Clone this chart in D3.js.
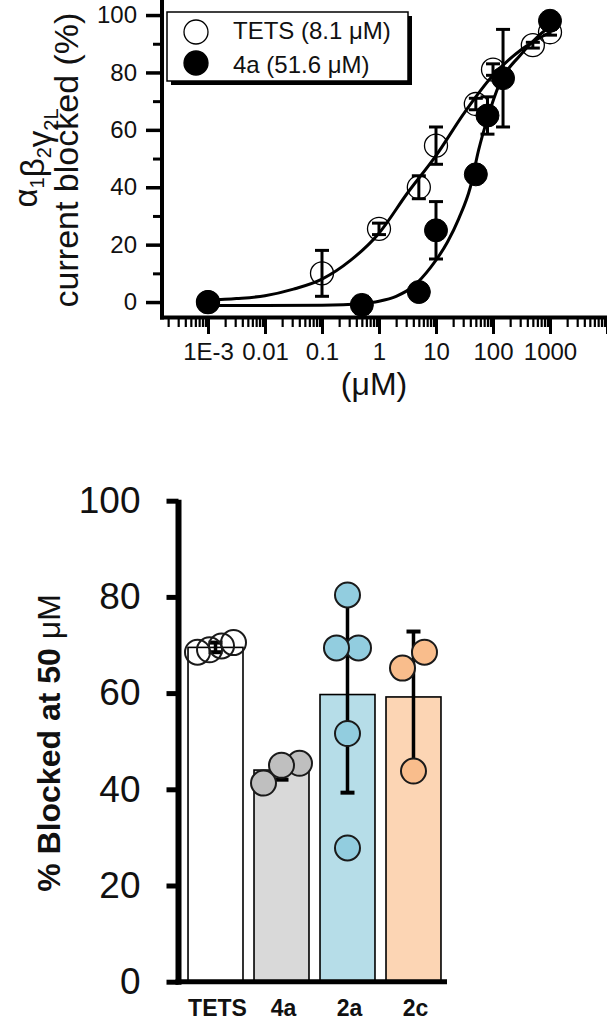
<!DOCTYPE html>
<html>
<head>
<meta charset="utf-8">
<script src="https://cdn.jsdelivr.net/npm/d3@7"></script>
<style>
    body { margin: 0; background: #fff; }
    svg { display: block; font-family: "Liberation Sans", Arial, sans-serif; }
</style>
</head>
<body>
<div id="chart"></div>
<script>
// ---- top panel: concentration-response (uM vs % blocked) ----
const tetsConc = [0.001, 0.1, 1, 5, 10, 50, 100, 500, 1000];
const tetsMean = [0, 10, 25.5, 40, 54.5, 69, 81, 89.5, 94];
const tetsErr = [0, 8, 2, 4, 6.5, 2, 2, 1, 1];

const a4Conc = [0.001, 0.5, 5, 10, 50, 80, 150, 1000];
const a4Mean = [0, -1, 3.5, 25, 44.5, 65, 78, 98];
const a4Err = [0, 3, 0, 10, 1, 6.5, 17, 0];

// fitted curves
const tetsFitConc = [0.001, 0.00316, 0.01, 0.0316, 0.1, 0.316, 1, 3.16, 10, 31.6, 100, 316, 1000];
const tetsFitVal = [0.6, 1.2, 2.2, 4.5, 8, 14.5, 24, 38, 51, 66, 79, 88, 94];
const a4FitConc = [0.001, 0.01, 0.1, 0.5, 1, 2, 4, 8, 16, 25, 40, 56, 80, 130, 300, 650, 1000];
const a4FitVal = [-1.2, -1.2, -1.1, -0.5, 0.3, 2, 5.5, 12, 21, 29, 40, 53, 64, 76, 86, 93, 96];

const xTickValues = [1e-3, 1e-2, 0.1, 1, 10, 100, 1000, 1e4];
const xTickLabels = ['1E-3', '0.01', '0.1', '1', '10', '100', '1000', ''];
const yTicksTop = [0, 20, 40, 60, 80, 100];
const yMinorTop = [10, 30, 50, 70, 90];
const legendLabels = ['TETS (8.1 \u03bcM)', '4a (51.6 \u03bcM)'];

// ---- bottom panel: % blocked at 50 uM ----
const groups = ['TETS', '4a', '2a', '2c'];
const groupMean = [69.5, 44, 59.7, 59.2];
const groupSd = [1, 2, 20.4, 13.6];
const groupPoints = [
    [70.5, 69, 69.8, 68.5],
    [45.4, 45, 41.3],
    [80.4, 69.4, 69.4, 51.6, 27.8],
    [68.5, 65.2, 43.8],
];
const yTicksBottom = [0, 20, 40, 60, 80, 100];

const barFill = ['#ffffff', '#d9d9d9', '#b6dde8', '#fcd5b4'];
const dotFill = ['none', '#bfbfbf', '#92cddf', '#f9bd8c'];

const W = 607, H = 1020;
const svg = d3.select('#chart').append('svg')
    .attr('width', W).attr('height', H)
    .attr('viewBox', `0 0 ${W} ${H}`);
svg.append('rect').attr('width', W).attr('height', H).attr('fill', '#fff');

/* ================= top panel ================= */
const xTop = d3.scaleLog().domain([1.56e-4, 1e4]).range([162, 607]);
const yTop = d3.scaleLinear().domain([-5, 105]).range([316.4, 0.7]);
const topG = svg.append('g');

// minor x ticks: 2..9 in every decade
const xMinor = [];
for (let e = -4; e < 4; e++) {
    for (let m = 2; m <= 9; m++) {
        const v = m * Math.pow(10, e);
        if (v > 1.56e-4 && v < 1e4) xMinor.push(v);
    }
}

const gxMinor = topG.append('g').attr('transform', 'translate(0,317)')
    .call(d3.axisBottom(xTop).tickValues(xMinor).tickSize(10).tickFormat(''));
const gxMajor = topG.append('g').attr('transform', 'translate(0,317)')
    .call(d3.axisBottom(xTop).tickValues(xTickValues).tickSize(17).tickPadding(9)
        .tickFormat((d, i) => xTickLabels[i]));
gxMinor.selectAll('.tick line').attr('stroke', '#000').attr('stroke-width', 2.2);
gxMajor.selectAll('.tick line').attr('stroke', '#000').attr('stroke-width', 3);
gxMajor.selectAll('.tick text').attr('font-size', 24).attr('fill', '#111')
    .attr('font-family', '"Liberation Sans", Arial, sans-serif');

const gyMinor = topG.append('g').attr('transform', 'translate(162,0)')
    .call(d3.axisLeft(yTop).tickValues(yMinorTop).tickSize(9).tickFormat(''));
const gyMajor = topG.append('g').attr('transform', 'translate(162,0)')
    .call(d3.axisLeft(yTop).tickValues(yTicksTop).tickSize(16).tickPadding(9));
gyMinor.selectAll('.tick line').attr('stroke', '#000').attr('stroke-width', 3);
gyMajor.selectAll('.tick line').attr('stroke', '#000').attr('stroke-width', 3.5);
gyMajor.selectAll('.tick text').attr('font-size', 24).attr('fill', '#111')
    .attr('font-family', '"Liberation Sans", Arial, sans-serif');
topG.selectAll('.domain').remove();

// axis lines
topG.append('line')
    .attr('x1', xTop.range()[0] - 2).attr('x2', xTop.range()[1])
    .attr('y1', yTop(-5) + 1).attr('y2', yTop(-5) + 1)
    .attr('stroke', '#000').attr('stroke-width', 4);
topG.append('line')
    .attr('x1', xTop.range()[0]).attr('x2', xTop.range()[0])
    .attr('y1', 0).attr('y2', yTop(-5) + 3)
    .attr('stroke', '#000').attr('stroke-width', 4);

// fitted curves
const fitLine = d3.line()
    .x(d => xTop(d[0]))
    .y(d => yTop(d[1]))
    .curve(d3.curveMonotoneX);
topG.append('path')
    .datum(tetsFitConc.map((c, i) => [c, tetsFitVal[i]]))
    .attr('d', fitLine).attr('fill', 'none').attr('stroke', '#000').attr('stroke-width', 3);
topG.append('path')
    .datum(a4FitConc.map((c, i) => [c, a4FitVal[i]]))
    .attr('d', fitLine).attr('fill', 'none').attr('stroke', '#000').attr('stroke-width', 3);

function drawSeries(conc, mean, err, filled) {
    const data = conc.map((c, i) => ({ c, m: mean[i], e: err[i] }));
    const g = topG.append('g');
    g.selectAll('circle').data(data).join('circle')
        .attr('cx', d => xTop(d.c)).attr('cy', d => yTop(d.m)).attr('r', 11.5)
        .attr('fill', filled ? '#000' : 'none')
        .attr('stroke', '#000').attr('stroke-width', filled ? 1 : 1.3);
    const eb = g.selectAll('g.err').data(data.filter(d => d.e > 0)).join('g').attr('class', 'err');
    eb.append('line')
        .attr('x1', d => xTop(d.c)).attr('x2', d => xTop(d.c))
        .attr('y1', d => yTop(d.m - d.e)).attr('y2', d => yTop(d.m + d.e))
        .attr('stroke', '#000').attr('stroke-width', 3);
    [-1, 1].forEach(s => {
        eb.append('line')
            .attr('x1', d => xTop(d.c) - 7).attr('x2', d => xTop(d.c) + 7)
            .attr('y1', d => yTop(d.m + s * d.e)).attr('y2', d => yTop(d.m + s * d.e))
            .attr('stroke', '#000').attr('stroke-width', 3);
    });
}
drawSeries(tetsConc, tetsMean, tetsErr, false);
drawSeries(a4Conc, a4Mean, a4Err, true);

// legend
const leg = topG.append('g');
leg.append('rect').attr('x', 171).attr('y', 16).attr('width', 241).attr('height', 69).attr('fill', '#000');
leg.append('rect').attr('x', 167).attr('y', 12).attr('width', 241).attr('height', 69)
    .attr('fill', '#fff').attr('stroke', '#000').attr('stroke-width', 1.5);
legendLabels.forEach((t, i) => {
    leg.append('circle').attr('cx', 196).attr('cy', 32 + i * 31).attr('r', 12)
        .attr('fill', i === 0 ? '#fff' : '#000').attr('stroke', '#000').attr('stroke-width', 1.3);
    leg.append('text').attr('x', 233).attr('y', 39 + i * 34).attr('font-size', 24).attr('fill', '#111').text(t);
});

// axis titles
const yTitle = topG.append('text')
    .attr('transform', 'translate(37,158) rotate(-90)')
    .attr('text-anchor', 'middle').attr('font-size', 33).attr('fill', '#111');
[['\u03b1', '1'], ['\u03b2', '2'], ['\u03b3', '2L']].forEach(([g, s]) => {
    yTitle.append('tspan').text(g);
    yTitle.append('tspan').attr('font-size', 20).attr('dy', 7).text(s);
    yTitle.append('tspan').attr('dy', -7).text('');
});
topG.append('text')
    .attr('transform', 'translate(78,160) rotate(-90)')
    .attr('text-anchor', 'middle').attr('font-size', 34).attr('fill', '#111')
    .text('current blocked (%)');
topG.append('text')
    .attr('x', 374).attr('y', 395).attr('text-anchor', 'middle')
    .attr('font-size', 32).attr('fill', '#111').text('(\u03bcM)');

/* ================= bottom panel ================= */
const xBot = d3.scaleBand().domain(groups).range([177, 452]).paddingInner(0.167).paddingOuter(0.167);
const yBot = d3.scaleLinear().domain([0, 100]).range([981.7, 500.7]);
const botG = svg.append('g');

// bars
botG.selectAll('rect.bar').data(groups).join('rect').attr('class', 'bar')
    .attr('x', d => xBot(d)).attr('width', xBot.bandwidth())
    .attr('y', (d, i) => yBot(groupMean[i]))
    .attr('height', (d, i) => yBot(0) - yBot(groupMean[i]))
    .attr('fill', (d, i) => barFill[i]).attr('stroke', '#000').attr('stroke-width', 1.6);

// error bars (mean +/- SD)
groups.forEach((gname, i) => {
    const cx = xBot(gname) + xBot.bandwidth() / 2;
    const lo = groupMean[i] - groupSd[i], hi = groupMean[i] + groupSd[i];
    botG.append('line').attr('x1', cx).attr('x2', cx).attr('y1', yBot(lo)).attr('y2', yBot(hi))
        .attr('stroke', '#000').attr('stroke-width', 3.5);
    [lo, hi].forEach(v => {
        botG.append('line').attr('x1', cx - 7).attr('x2', cx + 7).attr('y1', yBot(v)).attr('y2', yBot(v))
            .attr('stroke', '#000').attr('stroke-width', 4);
    });
});

// individual points: spread horizontally where they overlap (lowest value on the left)
const dotR = 12.5;
groups.forEach((gname, i) => {
    const cx = xBot(gname) + xBot.bandwidth() / 2;
    const pts = groupPoints[i].map(v => ({ v, py: yBot(v) }));
    const sorted = pts.slice().sort((a, b) => a.py - b.py);
    const bins = [];
    sorted.forEach(p => {
        const last = bins[bins.length - 1];
        if (last && p.py - last[last.length - 1].py < 2 * dotR) last.push(p);
        else bins.push([p]);
    });
    bins.forEach(b => {
        b.reverse();
        const step = b.length > 1 ? Math.min(22, 36 / (b.length - 1)) : 0;
        b.forEach((p, k) => { p.px = cx + (k - (b.length - 1) / 2) * step; });
    });
    botG.selectAll(null).data(pts).join('circle')
        .attr('cx', d => d.px).attr('cy', d => d.py).attr('r', dotR)
        .attr('fill', dotFill[i]).attr('stroke', '#1a1a1a').attr('stroke-width', 2);
});

// axes
const gyBot = botG.append('g').attr('transform', 'translate(178.5,0)')
    .call(d3.axisLeft(yBot).tickValues(yTicksBottom).tickSize(12).tickPadding(26));
gyBot.select('.domain').remove();
gyBot.selectAll('.tick line').attr('stroke', '#000').attr('stroke-width', 5);
gyBot.selectAll('.tick text').attr('font-size', 37).attr('fill', '#111')
    .attr('font-family', '"Liberation Sans", Arial, sans-serif');
botG.append('line').attr('x1', 178.5).attr('x2', 178.5).attr('y1', yBot(100) - 1).attr('y2', yBot(0) + 3)
    .attr('stroke', '#000').attr('stroke-width', 6);
botG.append('line').attr('x1', 175.5).attr('x2', xBot.range()[1] - 5).attr('y1', yBot(0)).attr('y2', yBot(0))
    .attr('stroke', '#000').attr('stroke-width', 5);

// category labels
botG.selectAll('text.cat').data(groups).join('text').attr('class', 'cat')
    .attr('x', d => xBot(d) + xBot.bandwidth() / 2 + 2).attr('y', 1016)
    .attr('text-anchor', 'middle').attr('font-size', 23).attr('font-weight', 'bold').attr('fill', '#111')
    .text(d => d);

// y title
const yTitle2 = botG.append('text')
    .attr('transform', 'translate(60,743) rotate(-90)')
    .attr('text-anchor', 'middle').attr('font-size', 32).attr('font-weight', 'bold').attr('fill', '#111');
yTitle2.append('tspan').text('% Blocked at 50 ');
yTitle2.append('tspan').attr('font-weight', 'normal').text('\u03bcM');
</script>
</body>
</html>
